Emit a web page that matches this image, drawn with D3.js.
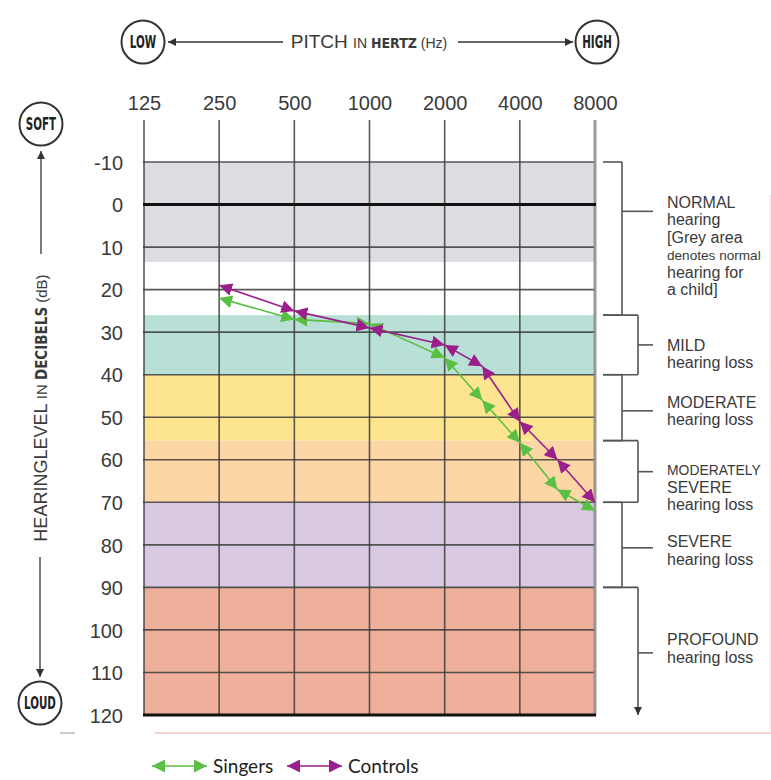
<!DOCTYPE html>
<html>
<head>
<meta charset="utf-8">
<script src="https://cdn.jsdelivr.net/npm/d3@7"></script>
<style>
  html, body { margin: 0; padding: 0; background: #fff; }
  svg { display: block; }
</style>
</head>
<body>
<script>
// ---------------- DATA ----------------
const freqTicks = [125, 250, 500, 1000, 2000, 4000, 8000];
const dbTicks = [-10, 0, 10, 20, 30, 40, 50, 60, 70, 80, 90, 100, 110, 120];
const freqs = [250, 500, 1000, 2000, 3000, 4000, 6000, 8000];
const singers = [22, 27, 28, 36, 46, 56, 67, 72];
const controls = [19, 25, 29, 33, 38, 51, 60, 70];

const bandNames = ["normal", "gap", "mild", "moderate", "modsevere", "severe", "profound"];
const bandFrom  = [-10, 13.5, 26, 40, 55.5, 70, 90];
const bandTo    = [13.5, 26, 40, 55.5, 70, 90, 120];
const bandColors = ["#dcdde0", "#ffffff", "#b8e0d6", "#fde48e", "#fdd6a5", "#d8c8e2", "#eeb09a"];

const bracketFrom = [-10, 26, 40, 55.5, 70, 90];
const bracketTo   = [26, 40, 55.5, 70, 90, 120];
const bracketLabels = [
  ["NORMAL", "hearing", "[Grey area", "denotes normal", "hearing for", "a child]"],
  ["MILD", "hearing loss"],
  ["MODERATE", "hearing loss"],
  ["MODERATELY", "SEVERE", "hearing loss"],
  ["SEVERE", "hearing loss"],
  ["PROFOUND", "hearing loss"]
];
const seriesNames = ["Singers", "Controls"];

(function () {
// ---------------- LAYOUT ----------------
const W = 771, H = 780;
const pL = 144, pR = 595, pT = 162, pB = 715;
const txt = "#3a3a3a";
const greenC = "#5cbf45", purpleC = "#9a1f8c";

const svg = d3.select("body").append("svg").attr("width", W).attr("height", H);

const step = (pR - pL) / (freqTicks.length - 1);
const x = d3.scaleLinear().domain(freqTicks).range(freqTicks.map((d, i) => pL + i * step));
const y = d3.scaleLinear().domain([-10, 120]).range([pT, pB]);

// markers
const defs = svg.append("defs");
function marker(id, color, size) {
  defs.append("marker").attr("id", id)
    .attr("viewBox", "0 0 10 10").attr("refX", 10).attr("refY", 5)
    .attr("markerWidth", size).attr("markerHeight", size)
    .attr("markerUnits", "userSpaceOnUse")
    .attr("orient", "auto-start-reverse")
    .append("path").attr("d", "M0,0 L10,5 L0,10 Z").attr("fill", color);
}
marker("mg", greenC, 13);
marker("mp", purpleC, 13);
marker("mk", "#333", 8);

// bands
svg.append("g").selectAll("rect").data(bandNames).join("rect")
  .attr("x", pL).attr("width", pR - pL)
  .attr("y", (d, i) => y(bandFrom[i]))
  .attr("height", (d, i) => y(bandTo[i]) - y(bandFrom[i]))
  .attr("fill", (d, i) => bandColors[i]);

// horizontal grid
const grid = svg.append("g");
grid.selectAll("line.h").data(dbTicks.filter(d => d !== 0 && d !== 120)).join("line")
  .attr("class", "h")
  .attr("x1", pL - 1).attr("x2", pR)
  .attr("y1", d => y(d)).attr("y2", d => y(d))
  .attr("stroke", "#3c3c3c").attr("stroke-width", 1.6).attr("stroke-opacity", 0.85);
// vertical grid
grid.selectAll("line.v").data(freqTicks).join("line")
  .attr("class", "v")
  .attr("x1", d => x(d)).attr("x2", d => x(d))
  .attr("y1", 120).attr("y2", pB)
  .attr("stroke", (d, i) => i === freqTicks.length - 1 ? "#8a8a8a" : "#3c3c3c")
  .attr("stroke-width", (d, i) => i === freqTicks.length - 1 ? 3 : 1.6)
  .attr("stroke-opacity", 0.85);
// 0 and 120 thick lines
grid.selectAll("line.t").data([0, 120]).join("line")
  .attr("class", "t")
  .attr("x1", pL - 1).attr("x2", pR + 1)
  .attr("y1", d => y(d)).attr("y2", d => y(d))
  .attr("stroke", "#111").attr("stroke-width", 3);

// axis labels
const xAxis = d3.axisTop(x).tickValues(freqTicks).tickSize(0).tickPadding(0).tickFormat(d => String(d));
const gx = svg.append("g").attr("transform", "translate(0,110)").call(xAxis);
gx.select(".domain").remove();
gx.selectAll("text").attr("font-family", "Liberation Sans, Arial, sans-serif")
  .attr("font-size", 20).attr("fill", txt);

const yAxis = d3.axisLeft(y).tickValues(dbTicks).tickSize(0).tickPadding(0).tickFormat(d => String(d));
const gy = svg.append("g").attr("transform", "translate(123,0)").call(yAxis);
gy.select(".domain").remove();
gy.selectAll("text").attr("font-family", "Liberation Sans, Arial, sans-serif")
  .attr("font-size", 20).attr("fill", txt).attr("dy", "0.36em");

// data lines: each segment is a double-headed arrow
function drawSeries(vals, color, mid) {
  const segs = d3.range(freqs.length - 1).map(i => [i, i + 1]);
  svg.append("g").selectAll("line").data(segs).join("line")
    .attr("x1", d => x(freqs[d[0]])).attr("y1", d => y(vals[d[0]]))
    .attr("x2", d => x(freqs[d[1]])).attr("y2", d => y(vals[d[1]]))
    .attr("stroke", color).attr("stroke-width", 1.6)
    .attr("marker-start", `url(#${mid})`).attr("marker-end", `url(#${mid})`);
}
drawSeries(singers, greenC, "mg");
drawSeries(controls, purpleC, "mp");

// right brackets
const bx = [622, 638, 622, 638, 622, 638];
const br = svg.append("g").attr("stroke", "#555").attr("stroke-width", 1.6).attr("fill", "none");
bracketFrom.forEach((f, i) => {
  const last = i === bracketFrom.length - 1;
  const xx = bx[i];
  br.append("line").attr("x1", 603).attr("x2", xx).attr("y1", y(f)).attr("y2", y(f));
  if (!last) {
    br.append("line").attr("x1", 603).attr("x2", xx).attr("y1", y(bracketTo[i])).attr("y2", y(bracketTo[i]));
    br.append("line").attr("x1", xx).attr("x2", xx).attr("y1", y(f)).attr("y2", y(bracketTo[i]));
  } else {
    br.append("line").attr("x1", xx).attr("x2", xx).attr("y1", y(f)).attr("y2", y(bracketTo[i]))
      .attr("marker-end", "url(#mk)");
  }
});
// mid ticks and labels
const tickDb = [1.6, 33, 48.5, 62.8, 80.7, 105.4];
const labelDb = [-0.6, 33, 46.4, 62.5, 79.2, 102.2];
const labG = svg.append("g").attr("font-family", "Liberation Sans, Arial, sans-serif")
  .attr("font-size", 16).attr("fill", txt);
bracketLabels.forEach((lines, i) => {
  br.append("line").attr("x1", bx[i]).attr("x2", 653).attr("y1", y(tickDb[i])).attr("y2", y(tickDb[i]));
  const t = labG.append("text").attr("x", 667).attr("y", y(labelDb[i]));
  lines.forEach((l, j) => {
    const ts = t.append("tspan").attr("x", 667).attr("dy", j === 0 ? "0.36em" : "17.5px").text(l);
    const len = ts.node().getComputedTextLength();
    if (len > 94) ts.attr("font-size", Math.floor(16 * 94 / len * 10) / 10);
  });
});

// header
const head = svg.append("g");
function circleLabel(cx, cy, label) {
  head.append("circle").attr("cx", cx).attr("cy", cy).attr("r", 21.5)
    .attr("fill", "#fff").attr("stroke", "#333").attr("stroke-width", 2);
  head.append("text").attr("x", cx).attr("y", cy).attr("dy", "0.36em")
    .attr("text-anchor", "middle")
    .attr("font-family", "DejaVu Sans Condensed, DejaVu Sans, sans-serif")
    .attr("font-weight", "bold").attr("font-size", 13.5).attr("fill", "#222")
    .attr("transform", `translate(${cx},${cy}) scale(0.85,1.25) translate(${-cx},${-cy})`)
    .text(label);
}
circleLabel(x(125) - 1, 42, "LOW");
circleLabel(x(8000) + 2, 42, "HIGH");
circleLabel(41, 124, "SOFT");
circleLabel(40, 703, "LOUD");

head.append("line").attr("x1", 283).attr("x2", 168).attr("y1", 42).attr("y2", 42)
  .attr("stroke", "#333").attr("stroke-width", 1.3).attr("marker-end", "url(#mk)");
head.append("line").attr("x1", 458).attr("x2", 573).attr("y1", 42).attr("y2", 42)
  .attr("stroke", "#333").attr("stroke-width", 1.3).attr("marker-end", "url(#mk)");
const ht = head.append("text").attr("x", 369).attr("y", 48).attr("text-anchor", "middle")
  .attr("font-family", "Liberation Sans, Arial, sans-serif").attr("fill", txt);
ht.append("tspan").attr("font-size", 19).text("PITCH ");
ht.append("tspan").attr("font-size", 14).text("IN ");
ht.append("tspan").attr("font-size", 14).attr("font-weight", "bold")
  .attr("font-family", "DejaVu Sans Condensed, sans-serif").text("HERTZ");
ht.append("tspan").attr("font-size", 14).text(" (Hz)");

// vertical axis title
head.append("line").attr("x1", 41).attr("x2", 41).attr("y1", 254).attr("y2", 151)
  .attr("stroke", "#333").attr("stroke-width", 1.3).attr("marker-end", "url(#mk)");
head.append("line").attr("x1", 40).attr("x2", 40).attr("y1", 557).attr("y2", 677)
  .attr("stroke", "#333").attr("stroke-width", 1.3).attr("marker-end", "url(#mk)");
const vt = head.append("text").attr("transform", "translate(47,408) rotate(-90)")
  .attr("text-anchor", "middle").attr("font-family", "Liberation Sans, Arial, sans-serif").attr("fill", txt);
vt.append("tspan").attr("font-size", 18).text("HEARINGLEVEL ");
vt.append("tspan").attr("font-size", 15).text("IN ");
vt.append("tspan").attr("font-size", 15).attr("font-weight", "bold")
  .attr("font-family", "DejaVu Sans Condensed, sans-serif").text("DECIBELS");
vt.append("tspan").attr("font-size", 15).text(" (dB)");

// page artefacts
svg.append("line").attr("x1", 155).attr("x2", W).attr("y1", 733).attr("y2", 733)
  .attr("stroke", "#f3a3a3").attr("stroke-width", 1.2);
svg.append("line").attr("x1", 60).attr("x2", 75).attr("y1", 733).attr("y2", 733)
  .attr("stroke", "#bbb").attr("stroke-width", 1.5);
svg.append("line").attr("x1", 770).attr("x2", 770).attr("y1", 195).attr("y2", 733)
  .attr("stroke", "#f0dede").attr("stroke-width", 1);

// legend
const legColors = [greenC, purpleC];
const legMarkers = ["mg", "mp"];
const legX = [152, 287];
const lg = svg.append("g");
seriesNames.forEach((n, i) => {
  lg.append("line").attr("x1", legX[i]).attr("x2", legX[i] + 55).attr("y1", 766).attr("y2", 766)
    .attr("stroke", legColors[i]).attr("stroke-width", 1.6)
    .attr("marker-start", `url(#${legMarkers[i]})`).attr("marker-end", `url(#${legMarkers[i]})`);
  lg.append("text").attr("x", legX[i] + 61).attr("y", 766).attr("dy", "0.36em")
    .attr("font-family", "Lato, Carlito, sans-serif").attr("font-size", 19).attr("fill", "#222")
    .text(n);
});
})();
</script>
</body>
</html>
